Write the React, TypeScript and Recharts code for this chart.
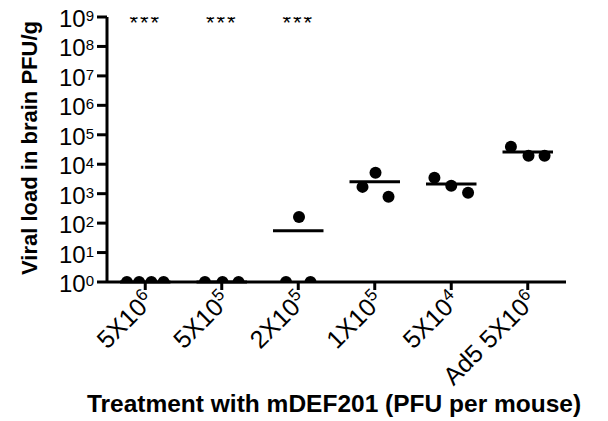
import React from 'react';
import { ScatterChart, Scatter, XAxis, YAxis, ReferenceLine } from 'recharts';

const tickBases = ['5X10', '5X10', '2X10', '1X10', '5X10', 'Ad5 5X10'];
const tickExps = ['6', '5', '5', '5', '4', '6'];
const significance = ['***', '***', '***', '', '', ''];

// PFU/g per mouse
const group0 = [1, 1, 1, 1];
const group1 = [1, 1, 1];
const group2 = [1, 162, 1];
const group3 = [1700, 5100, 780];
const group4 = [3450, 1850, 1070];
const group5 = [39000, 19400, 19400];

// horizontal jitter of each point inside its category
const jitter0 = [-0.24, -0.08, 0.08, 0.24];
const jitter1 = [-0.22, 0.01, 0.22];
const jitter2 = [-0.16, 0.01, 0.16];
const jitter3 = [-0.16, 0.01, 0.18];
const jitter4 = [-0.22, 0, 0.22];
const jitter5 = [-0.22, 0.01, 0.22];

const yTicks = [1, 10, 100, 1e3, 1e4, 1e5, 1e6, 1e7, 1e8, 1e9];

const groups = [group0, group1, group2, group3, group4, group5];
const jitters = [jitter0, jitter1, jitter2, jitter3, jitter4, jitter5];

const points = groups.flatMap((vals, gi) =>
  vals.map((v, i) => ({ x: gi + jitters[gi][i], y: v }))
);
const means = groups.map(vals => vals.reduce((a, b) => a + b, 0) / vals.length);
const stars = significance
  .map((s, i) => ({ x: i, y: 1e9, label: s }))
  .filter(d => d.label);

const FONT = 'Arial, "Liberation Sans", Helvetica, sans-serif';

const Dot = ({ cx, cy }: any) => <circle cx={cx} cy={cy} r={6} fill="#000" />;

const Stars = ({ cx, cy, payload }: any) => (
  <text x={cx} y={cy + 13} textAnchor="middle" fontSize={22} fontFamily={FONT} fill="#000" letterSpacing={2}>
    {payload.label}
  </text>
);

const YTick = ({ x, y, payload }: any) => {
  const exp = Math.round(Math.log10(payload.value));
  return (
    <text x={x} y={y + 10} textAnchor="end" fontFamily={FONT} fill="#000">
      <tspan fontSize={24}>10</tspan>
      <tspan fontSize={15} dy={-6}>{exp}</tspan>
    </text>
  );
};

const XTick = ({ x, y, payload }: any) => {
  const i = Math.round(payload.value);
  return (
    <g transform={`translate(${x - 2},${y - 2}) rotate(-45)`}>
      <text x={0} y={0} dy={17} textAnchor="end" fontFamily={FONT} fill="#000">
        <tspan fontSize={25}>{tickBases[i]}</tspan>
        <tspan fontSize={17} dy={-9}>{tickExps[i]}</tspan>
      </text>
    </g>
  );
};

export default function App() {
  return (
    <div style={{ position: 'absolute', left: 0, top: 0, width: 608, height: 421, background: '#fff' }}>
      <ScatterChart width={608} height={421} margin={{ top: 17, right: 42, bottom: 0, left: 0 }}>
        <XAxis
          type="number"
          dataKey="x"
          domain={[-0.5, 5.5]}
          ticks={[0, 1, 2, 3, 4, 5]}
          allowDataOverflow
          height={139}
          tick={<XTick />}
          tickSize={8}
          tickMargin={2}
          axisLine={{ stroke: '#000', strokeWidth: 3 }}
          tickLine={{ stroke: '#000', strokeWidth: 3 }}
          label={{
            content: () => (
              <text x={334} y={412} textAnchor="middle" fontSize={24.5} fontWeight="bold" fontFamily={FONT} fill="#000">
                Treatment with mDEF201 (PFU per mouse)
              </text>
            ),
          }}
        />
        <YAxis
          type="number"
          dataKey="y"
          scale="log"
          domain={[1, 1e9]}
          ticks={yTicks}
          allowDataOverflow
          width={107}
          tick={<YTick />}
          tickSize={10}
          tickMargin={3}
          axisLine={{ stroke: '#000', strokeWidth: 3 }}
          tickLine={{ stroke: '#000', strokeWidth: 3 }}
          label={{
            content: () => (
              <text
                x={29}
                y={148}
                transform="rotate(-90 29 148)"
                textAnchor="middle"
                dominantBaseline="central"
                fontSize={22}
                fontWeight="bold"
                fontFamily={FONT}
                fill="#000"
              >
                Viral load in brain PFU/g
              </text>
            ),
          }}
        />
        {means.map((m, i) => (
          <ReferenceLine
            key={i}
            segment={[{ x: i - 0.33, y: m }, { x: i + 0.33, y: m }]}
            stroke="#000"
            strokeWidth={3}
          />
        ))}
        <Scatter data={points} shape={<Dot />} isAnimationActive={false} />
        <Scatter data={stars} shape={<Stars />} isAnimationActive={false} />
      </ScatterChart>
    </div>
  );
}
